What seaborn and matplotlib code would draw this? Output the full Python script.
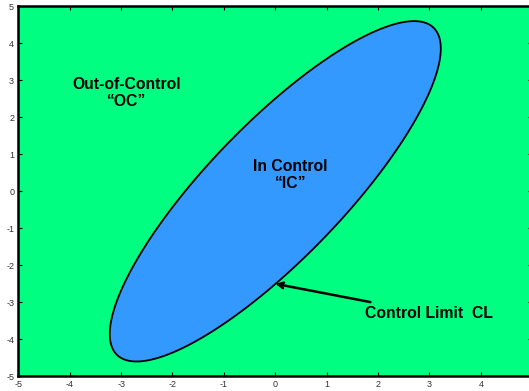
import numpy as np
import matplotlib
matplotlib.use("Agg")
import matplotlib.pyplot as plt
import seaborn as sns

# ellipse parameters (quadratic form x' S^-1 x <= limit)
center = [0.0, 0.0]
cov = [[10.37, 12.42], [12.42, 21.16]]
limit = 1.0
x_ticks = [-5, -4, -3, -2, -1, 0, 1, 2, 3, 4, 5]
x_labels = ["-5", "-4", "-3", "-2", "-1", "0", "1", "2", "3", "4", ""]
y_ticks = [-5, -4, -3, -2, -1, 0, 1, 2, 3, 4, 5]

green = "#00FF80"
blue = "#3399FF"

sns.set_theme(style="ticks")
plt.rcParams['font.family'] = ['Liberation Sans', 'DejaVu Sans']
plt.rcParams['axes.unicode_minus'] = False

fig = plt.figure(figsize=(5.29, 3.91), dpi=100)
ax = fig.add_axes([0.0346, 0.0376, 0.9716, 0.9463])

# grid for the quadratic form
gx = np.linspace(-5, 5, 401)
gy = np.linspace(-5, 5, 401)
X, Y = np.meshgrid(gx, gy)
inv = np.linalg.inv(np.array(cov))
dx = X - center[0]
dy = Y - center[1]
Q = inv[0, 0] * dx**2 + 2 * inv[0, 1] * dx * dy + inv[1, 1] * dy**2

ax.set_facecolor(green)
ax.contourf(X, Y, Q, levels=[-1, limit], colors=[blue])
ax.contour(X, Y, Q, levels=[limit], colors="black", linewidths=1.3)

txt = dict(fontsize=11.3, fontweight="bold", color="black", linespacing=1.15)
ax.text(-2.9, 2.66, "Out-of-Control\n\u201cOC\u201d", ha="center", va="center", **txt)
ax.text(0.3, 0.45, "In Control\n\u201cIC\u201d", ha="center", va="center", **txt)
ax.annotate("Control Limit  CL", xy=(0, -2.5), xytext=(1.75, -3.3),
            ha="left", va="center", **txt,
            arrowprops=dict(arrowstyle="->", color="black", lw=1.8,
                            shrinkA=2, shrinkB=0, mutation_scale=10))

ax.set_xlim(-5, 5)
ax.set_ylim(-5, 5)
ax.set_xticks(x_ticks)
ax.set_xticklabels(x_labels)
ax.set_yticks(y_ticks)
ax.tick_params(direction="in", length=3, width=0.8, labelsize=6.5,
               top=True, right=True, pad=3, colors="black", labelcolor="#333333")
for s in ax.spines.values():
    s.set_linewidth(1.8)
    s.set_color("black")

fig.savefig("out.png", dpi=100)
